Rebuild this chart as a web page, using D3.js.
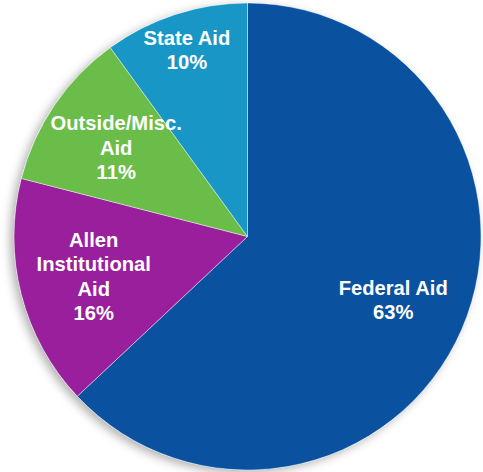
<!DOCTYPE html>
<html>
<head>
<meta charset="utf-8">
<script src="https://cdn.jsdelivr.net/npm/d3@7"></script>
<style>
  html, body { margin: 0; padding: 0; background: #fff; }
  svg { display: block; }
  .slice-label { font-family: "Liberation Sans", Arial, sans-serif; font-weight: bold; fill: #fff; }
</style>
</head>
<body>
<svg id="chart"></svg>
<script>
// chart data
var categories = ["Federal Aid", "Allen Institutional Aid", "Outside/Misc. Aid", "State Aid"];
var labelLines = [["Federal Aid"], ["Allen", "Institutional", "Aid"], ["Outside/Misc.", "Aid"], ["State Aid"]];
var values = [63, 16, 11, 10];
var colors = ["#0a51a0", "#991f9c", "#6bbd4a", "#1897c7"];

var width = 483, height = 472;
var cx = 247.5, cy = 236.5, radius = 233.5;

var svg = d3.select("#chart")
  .attr("width", width)
  .attr("height", height);

// soft shadow on the lower left like the original
var defs = svg.append("defs");
defs.append("filter")
  .attr("id", "shadow")
  .attr("x", "-20%").attr("y", "-20%")
  .attr("width", "140%").attr("height", "140%")
  .append("feDropShadow")
  .attr("dx", -4).attr("dy", 3)
  .attr("stdDeviation", 5)
  .attr("flood-color", "#000")
  .attr("flood-opacity", 0.3);

var data = categories.map(function(c, i){
  return {name: c, lines: labelLines[i], value: values[i], color: colors[i]};
});

var pie = d3.pie()
  .sort(null)
  .value(function(d){ return d.value; });

var arc = d3.arc()
  .innerRadius(0)
  .outerRadius(radius);

var g = svg.append("g")
  .attr("transform", "translate(" + cx + "," + cy + ")");

var arcs = pie(data);

// shadow disc underneath
g.append("circle")
  .attr("r", radius)
  .attr("fill", "#fff")
  .attr("filter", "url(#shadow)");

g.selectAll("path.slice")
  .data(arcs)
  .enter().append("path")
  .attr("class", "slice")
  .attr("d", arc)
  .attr("fill", function(d){ return d.data.color; })
  .attr("stroke", "rgba(255,255,255,0.6)")
  .attr("stroke-width", 0.7);

// labels: the small State slice sits a bit further out
var fontSize = 20.2, lineH = 24.5;
var labelArc = d3.arc().innerRadius(radius * 0.68).outerRadius(radius * 0.68);
var outerLabelArc = d3.arc().innerRadius(radius * 0.84).outerRadius(radius * 0.84);

var labels = g.selectAll("text.slice-label")
  .data(arcs)
  .enter().append("text")
  .attr("class", "slice-label")
  .attr("text-anchor", "middle")
  .style("font-size", fontSize + "px")
  .attr("transform", function(d){
    var c = (d.data.value < 11 ? outerLabelArc : labelArc).centroid(d);
    return "translate(" + c[0] + "," + c[1] + ")";
  });

labels.each(function(d){
  var lines = d.data.lines.concat([d.data.value + "%"]);
  var t = d3.select(this);
  var top = -(lines.length - 1) * lineH / 2 + fontSize * 0.36;
  lines.forEach(function(l, i){
    t.append("tspan")
      .attr("x", 0)
      .attr("y", top + i * lineH)
      .text(l);
  });
});
</script>
</body>
</html>
